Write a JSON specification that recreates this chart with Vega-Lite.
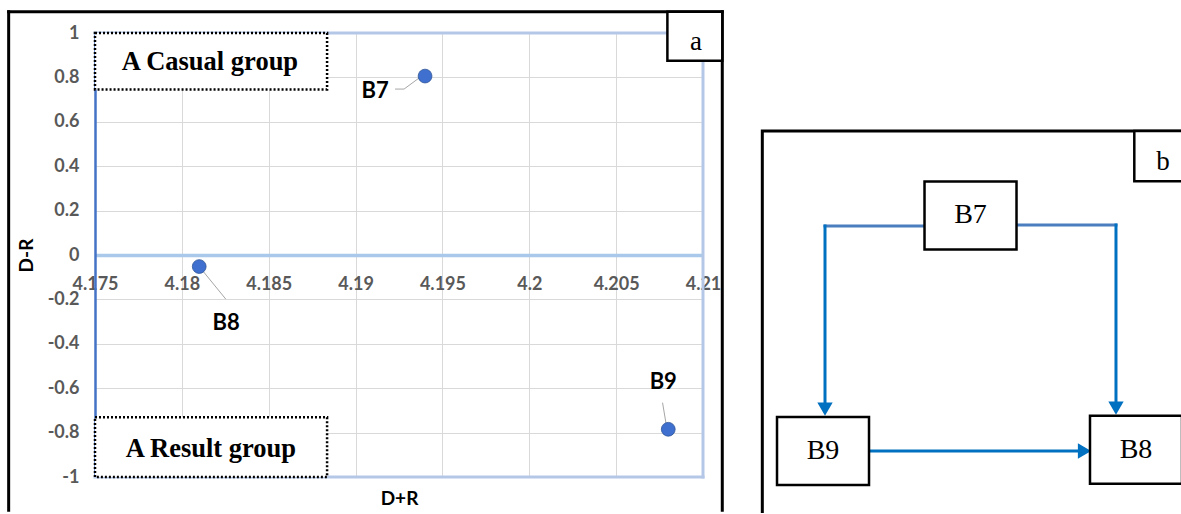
{
  "$schema": "https://vega.github.io/schema/vega-lite/v6.json",
  "padding": {"left": 6, "top": 9, "right": 0, "bottom": 0},
  "bounds": "flush",
  "spacing": 55,
  "background": "white",
  "config": {"view": {"stroke": null}, "font": "Lato"},
  "hconcat": [
    {
      "width": 608,
      "height": 444,
      "data": {"values": [
        {"factor": "B7", "DplusR": 4.194, "DminusR": 0.806},
        {"factor": "B8", "DplusR": 4.181, "DminusR": -0.052},
        {"factor": "B9", "DplusR": 4.208, "DminusR": -0.785}
      ]},
      "encoding": {
        "x": {
          "field": "DplusR", "type": "quantitative",
          "scale": {"domain": [4.175, 4.21], "nice": false, "zero": false},
          "axis": {
            "values": [4.175, 4.18, 4.185, 4.19, 4.195, 4.2, 4.205, 4.21],
            "labelExpr": "'' + datum.value",
            "offset": -222,
            "domainColor": "#A9C8EA", "domainWidth": 3.5,
            "ticks": false,
            "grid": true, "gridColor": "#D9D9D9", "gridWidth": 1,
            "labelFont": "Lato", "labelFontSize": 18, "labelFontWeight": "bold", "labelColor": "#595959",
            "labelPadding": 20, "labelFlush": false, "labelOverlap": false, "labelBound": false,
            "title": "D+R", "titleFont": "Lato", "titleFontSize": 19, "titleFontWeight": "bold", "titleColor": "black",
            "titleY": 243, "titleBaseline": "middle"
          }
        },
        "y": {
          "field": "DminusR", "type": "quantitative",
          "scale": {"domain": [-1, 1], "nice": false, "zero": false},
          "axis": {
            "values": [1, 0.8, 0.6, 0.4, 0.2, 0, -0.2, -0.4, -0.6, -0.8, -1],
            "labelExpr": "'' + datum.value",
            "domainColor": "#4472C4", "domainWidth": 2.5,
            "ticks": false,
            "grid": true, "gridColor": "#D9D9D9", "gridWidth": 1,
            "labelFont": "Lato", "labelFontSize": 18, "labelFontWeight": "bold", "labelColor": "#595959",
            "labelPadding": 16, "labelOverlap": false, "labelBound": false,
            "title": "D-R", "titleFont": "Lato", "titleFontSize": 19, "titleFontWeight": "bold", "titleColor": "black",
            "titleX": -69, "titleY": 222, "titleAngle": -90, "titleAlign": "center", "titleBaseline": "middle"
          }
        }
      },
      "layer": [
        {"data": {"values": [
          {"edge": "top", "DplusR": 4.175, "DminusR": 1, "DplusR_end": 4.21, "DminusR_end": 1},
          {"edge": "right", "DplusR": 4.21, "DminusR": 1, "DplusR_end": 4.21, "DminusR_end": -1},
          {"edge": "bottom", "DplusR": 4.175, "DminusR": -1, "DplusR_end": 4.21, "DminusR_end": -1}
         ]},
         "mark": {"type": "rule", "color": "#B4C7E7", "strokeWidth": 3, "strokeCap": "square"},
         "encoding": {"x2": {"field": "DplusR_end"}, "y2": {"field": "DminusR_end"}}},
        {"transform": [{"filter": "datum.factor == 'B7'"}],
         "mark": {"type": "rule", "color": "#A6A6A6", "strokeWidth": 1, "xOffset": -30, "yOffset": 13, "x2Offset": -21, "y2Offset": 13},
         "encoding": {"x2": {"field": "DplusR"}, "y2": {"field": "DminusR"}}},
        {"transform": [{"filter": "datum.factor == 'B7'"}],
         "mark": {"type": "rule", "color": "#A6A6A6", "strokeWidth": 1, "xOffset": -21, "yOffset": 13, "x2Offset": -2, "y2Offset": -1},
         "encoding": {"x2": {"field": "DplusR"}, "y2": {"field": "DminusR"}}},
        {"transform": [{"filter": "datum.factor == 'B8'"}],
         "mark": {"type": "rule", "color": "#A6A6A6", "strokeWidth": 1, "xOffset": 0, "yOffset": 0, "x2Offset": 26.5, "y2Offset": 32.5},
         "encoding": {"x2": {"field": "DplusR"}, "y2": {"field": "DminusR"}}},
        {"transform": [{"filter": "datum.factor == 'B9'"}],
         "mark": {"type": "rule", "color": "#A6A6A6", "strokeWidth": 1, "xOffset": -5.7, "yOffset": -26.6, "x2Offset": -1.7, "y2Offset": -2.6},
         "encoding": {"x2": {"field": "DplusR"}, "y2": {"field": "DminusR"}}},
        {"mark": {"type": "circle", "size": 190, "color": "#3F6FCF", "opacity": 1, "stroke": "#2F5597", "strokeWidth": 0.8}},
        {"transform": [{"filter": "datum.factor == 'B7'"}],
         "mark": {"type": "text", "font": "Lato", "fontSize": 22, "fontWeight": "bold", "color": "black", "align": "center", "baseline": "middle", "dx": -50, "dy": 15},
         "encoding": {"text": {"field": "factor"}}},
        {"transform": [{"filter": "datum.factor == 'B8'"}],
         "mark": {"type": "text", "font": "Lato", "fontSize": 22, "fontWeight": "bold", "color": "black", "align": "center", "baseline": "middle", "dx": 27, "dy": 56},
         "encoding": {"text": {"field": "factor"}}},
        {"transform": [{"filter": "datum.factor == 'B9'"}],
         "mark": {"type": "text", "font": "Lato", "fontSize": 22, "fontWeight": "bold", "color": "black", "align": "center", "baseline": "middle", "dx": -5, "dy": -47},
         "encoding": {"text": {"field": "factor"}}},
        {"data": {"values": [
          {"edge": "left", "DplusR": 4.17003, "DminusR": 1.096, "DplusR_end": 4.17003, "DminusR_end": -1.15},
          {"edge": "top", "DplusR": 4.17003, "DminusR": 1.096, "DplusR_end": 4.21111, "DminusR_end": 1.096},
          {"edge": "right", "DplusR": 4.21111, "DminusR": 1.096, "DplusR_end": 4.21111, "DminusR_end": -1.15}
         ]},
         "mark": {"type": "rule", "color": "black", "strokeWidth": 3, "strokeCap": "square"},
         "encoding": {"x2": {"field": "DplusR_end"}, "y2": {"field": "DminusR_end"}}},
        {"data": {"values": [
          {"box": "casual", "DplusR": 4.175, "DplusR_end": 4.18836, "DminusR": 1, "DminusR_end": 0.746},
          {"box": "result", "DplusR": 4.175, "DplusR_end": 4.18836, "DminusR": -0.731, "DminusR_end": -1}
         ]},
         "mark": {"type": "rect", "fill": "white", "stroke": "black", "strokeWidth": 2.5, "strokeDash": [2, 2]},
         "encoding": {"x2": {"field": "DplusR_end"}, "y2": {"field": "DminusR_end"}}},
        {"data": {"values": [
          {"label": "A Casual group", "DplusR": 4.18162, "DminusR": 0.8333},
          {"label": "A Result group", "DplusR": 4.18167, "DminusR": -0.9085}
         ]},
         "mark": {"type": "text", "font": "Liberation Serif", "fontSize": 26.5, "fontWeight": "bold", "color": "black", "align": "center", "baseline": "alphabetic"},
         "encoding": {"text": {"field": "label"}}},
        {"data": {"values": [
          {"panel": "a", "DplusR": 4.20795, "DplusR_end": 4.21111, "DminusR": 1.096, "DminusR_end": 0.875}
         ]},
         "mark": {"type": "rect", "fill": "white", "stroke": "black", "strokeWidth": 2.5},
         "encoding": {"x2": {"field": "DplusR_end"}, "y2": {"field": "DminusR_end"}}},
        {"data": {"values": [
          {"panel": "a", "DplusR": 4.20959, "DminusR": 0.923}
         ]},
         "mark": {"type": "text", "font": "Liberation Serif", "fontSize": 27, "color": "black", "align": "center", "baseline": "alphabetic"},
         "encoding": {"text": {"field": "panel"}}}
      ]
    },
    {
      "width": 423,
      "height": 480,
      "encoding": {
        "x": {"field": "x", "type": "quantitative", "scale": {"domain": [0, 100], "nice": false, "zero": false}, "axis": null},
        "y": {"field": "y", "type": "quantitative", "scale": {"domain": [0, 100], "nice": false, "zero": false, "reverse": true}, "axis": null}
      },
      "layer": [
        {"data": {"values": [
          {"part": "frame", "x": 1.02, "x2": 110, "y": 20.44, "y2": 110}
         ]},
         "mark": {"type": "rect", "fill": "white", "stroke": "black", "strokeWidth": 3, "clip": true},
         "encoding": {"x2": {"field": "x2"}, "y2": {"field": "y2"}}},
        {"data": {"values": [
          {"seg": "branch", "x": 39.31, "y": 40.21, "x2": 15.84, "y2": 40.21},
          {"seg": "drop", "x": 15.84, "y": 40.21, "x2": 15.84, "y2": 78.38},
          {"seg": "branch", "x": 61.16, "y": 40.0, "x2": 84.63, "y2": 40.0},
          {"seg": "drop", "x": 84.63, "y": 40.0, "x2": 84.63, "y2": 78.17},
          {"seg": "flow", "x": 26.31, "y": 87.08, "x2": 77.19, "y2": 87.08}
         ]},
         "mark": {"type": "rule", "strokeWidth": 3, "strokeCap": "square", "clip": true},
         "encoding": {
           "x2": {"field": "x2"}, "y2": {"field": "y2"},
           "color": {"field": "seg", "type": "nominal", "scale": {"domain": ["branch", "drop", "flow"], "range": ["#4A7EBF", "#0070C0", "#0070C0"]}, "legend": null}
         }},
        {"data": {"values": [
          {"dir": "down", "x": 15.84, "y": 78.38},
          {"dir": "down", "x": 84.63, "y": 78.17},
          {"dir": "right", "x": 77.19, "y": 87.08}
         ]},
         "mark": {"type": "point", "filled": true, "color": "#0070C0", "opacity": 1, "size": 235, "strokeWidth": 0, "clip": true},
         "encoding": {
           "shape": {"field": "dir", "type": "nominal", "scale": {"domain": ["down", "right"], "range": ["triangle-down", "triangle-right"]}, "legend": null}
         }},
        {"data": {"values": [
          {"node": "B7", "x": 50.24, "y": 38.02},
          {"node": "B9", "x": 15.37, "y": 87.08},
          {"node": "B8", "x": 89.36, "y": 86.81}
         ]},
         "layer": [
           {"mark": {"type": "point", "shape": "M-1,-0.739H1V0.739H-1Z", "size": 8464, "filled": true, "fill": "white", "stroke": "black", "strokeWidth": 2.5, "opacity": 1, "clip": true}},
           {"mark": {"type": "text", "font": "Liberation Serif", "fontSize": 28, "color": "black", "align": "center", "baseline": "middle", "clip": true},
            "encoding": {"text": {"field": "node"}}}
         ]},
        {"data": {"values": [
          {"part": "label box", "x": 88.96, "x2": 110, "y": 20.44, "y2": 30.91}
         ]},
         "mark": {"type": "rect", "fill": "white", "stroke": "black", "strokeWidth": 2.5, "clip": true},
         "encoding": {"x2": {"field": "x2"}, "y2": {"field": "y2"}}},
        {"data": {"values": [
          {"panel": "b", "x": 95.74, "y": 28.54}
         ]},
         "mark": {"type": "text", "font": "Liberation Serif", "fontSize": 27, "color": "black", "align": "center", "baseline": "alphabetic", "clip": true},
         "encoding": {"text": {"field": "panel"}}}
      ]
    }
  ]
}
